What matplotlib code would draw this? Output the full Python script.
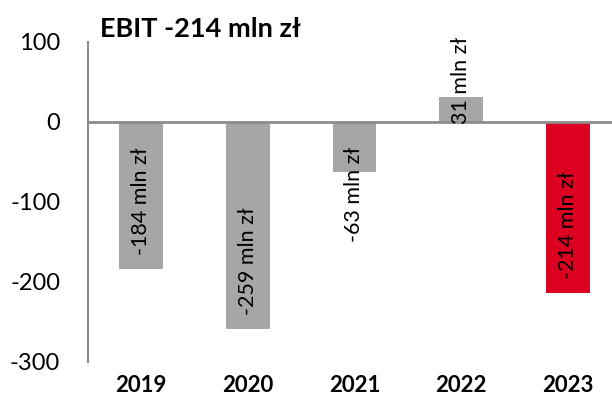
import matplotlib

matplotlib.use("Agg")
import matplotlib.pyplot as plt

YEARS = ["2019", "2020", "2021", "2022", "2023"]
EBIT = [-184, -259, -63, 31, -214]
LABELS = ["-184 mln zł", "-259 mln zł", "-63 mln zł", "31 mln zł", "-214 mln zł"]
TITLE = "EBIT -214 mln zł"

GRAY = "#A6A6A6"
RED = "#DC0021"
AXIS = "#8C8C8C"

plt.rcParams["font.family"] = ["Lato", "DejaVu Sans"]

fig = plt.figure(figsize=(6.12, 3.97), dpi=100)
ax = fig.add_axes([88 / 612, 1 - 362 / 397, 1 - 88 / 612, 320 / 397])

colors = [GRAY] * (len(YEARS) - 1) + [RED]
x = range(len(YEARS))
ax.bar(x, EBIT, width=0.41, color=colors, zorder=2)
ax.axhline(0, color=AXIS, lw=2, zorder=3)

for i, (val, lab) in enumerate(zip(EBIT, LABELS)):
    if val < 0:
        y = min(val + 18, -150)
    else:
        y = -2
    ax.text(i, y, lab, rotation=90, ha="center", va="bottom", fontsize=15.5, color="black", zorder=4)

ax.set_ylim(-300, 100)
ax.set_xlim(-0.5, 4.5 - 9 / 107)
ax.set_yticks([100, 0, -100, -200, -300])
ax.set_yticklabels(["100", "0", "-100", "-200", "-300"], fontsize=17)
ax.set_xticks(list(x))
ax.set_xticklabels(YEARS, fontsize=16, fontweight="bold")
ax.tick_params(axis="y", length=0, pad=20)
ax.tick_params(axis="x", length=0, pad=9)

for side in ["top", "right", "bottom"]:
    ax.spines[side].set_visible(False)
ax.spines["left"].set_color(AXIS)
ax.spines["left"].set_linewidth(1.5)

fig.text(100 / 612, 1 - 17 / 397, TITLE, fontsize=19.5, fontweight="bold", ha="left", va="top")

fig.savefig("out.png", dpi=100)
